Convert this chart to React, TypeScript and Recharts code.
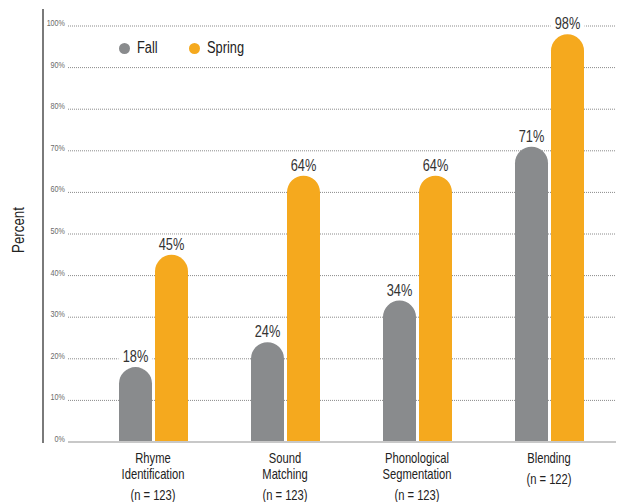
import React from 'react';
import {
  BarChart,
  Bar,
  XAxis,
  YAxis,
  CartesianGrid,
  Legend,
  LabelList,
} from 'recharts';

// category names, split the way the axis prints them
const categoryLines: string[][] = [
  ['Rhyme', 'Identification'],
  ['Sound', 'Matching'],
  ['Phonological', 'Segmentation'],
  ['Blending'],
];
const sampleSizes = [123, 123, 123, 122];
const fallValues = [18, 24, 34, 71];
const springValues = [45, 64, 64, 98];
const yTicks = [0, 10, 20, 30, 40, 50, 60, 70, 80, 90, 100];

const categories = categoryLines.map((l) => l.join(' '));
const seriesNames = { fall: 'Fall', spring: 'Spring' };

const GRAY = '#898b8d';
const ORANGE = '#f5a91e';
const FONT = '"Liberation Sans", Arial, sans-serif';
const NARROW = 0.8; // squeeze Liberation Sans to look like a condensed face

const data = categories.map((category, i) => ({
  category,
  fall: fallValues[i],
  spring: springValues[i],
}));

// text drawn condensed around its anchor x
const Narrow = ({ x, y, children, ...rest }: any) => (
  <text transform={`translate(${x},0) scale(${NARROW},1)`} x={0} y={y} fontFamily={FONT} {...rest}>
    {children}
  </text>
);

const YTick = (props: any) => {
  const { y, payload } = props;
  return (
    <Narrow x={57} y={y} textAnchor="end" fontSize={9} fill="#6a6a6a">
      {payload.value}%
    </Narrow>
  );
};

const XTick = (props: any) => {
  const { x, y, payload } = props;
  const i = categories.indexOf(payload.value);
  const lines = categoryLines[i] || [payload.value];
  const nY = y + 21 + (lines.length - 1) * 16 + 21;
  return (
    <g>
      {lines.map((line, k) => (
        <Narrow key={k} x={x} y={y + 21 + k * 16} textAnchor="middle" fontSize={14} fill="#222">
          {line}
        </Narrow>
      ))}
      <Narrow x={x} y={nY} textAnchor="middle" fontSize={14} fill="#222">
        (n = {sampleSizes[i]})
      </Narrow>
    </g>
  );
};

const AxisTitle = (props: any) => {
  const vb = props.viewBox || { x: 0, y: 18, width: 60, height: 416 };
  const cy = vb.y + vb.height / 2 - 4;
  return (
    <g>
      <line x1={35} x2={35} y1={1} y2={vb.y + vb.height + 1} stroke="#7a7a7a" strokeWidth={2} />
      <text
        x={10}
        y={cy}
        transform={`rotate(-90, 10, ${cy})`}
        textAnchor="middle"
        dominantBaseline="central"
        fontSize={16}
        fill="#222"
        fontFamily={FONT}
        textLength={46}
        lengthAdjust="spacingAndGlyphs"
      >
        Percent
      </text>
    </g>
  );
};

const BarValue = (props: any) => {
  const { x, y, width, value } = props;
  const cx = x + width / 2;
  return (
    <g>
      <rect x={cx - 17} y={y - 20} width={34} height={16} fill="#fff" />
      <Narrow x={cx} y={y - 5} textAnchor="middle" fontSize={16} fill="#333">
        {value}%
      </Narrow>
    </g>
  );
};

const LegendBox = () => (
  <div style={{ display: 'flex', alignItems: 'center', fontFamily: FONT, fontSize: 16, color: '#222' }}>
    {[
      { name: seriesNames.fall, color: GRAY, w: 52 },
      { name: seriesNames.spring, color: ORANGE, w: 70 },
    ].map((s) => (
      <div key={s.name} style={{ display: 'flex', alignItems: 'center', width: s.w + 18 }}>
        <span
          style={{ width: 11, height: 11, borderRadius: '50%', background: s.color, display: 'inline-block', marginRight: 7, flex: 'none' }}
        />
        <span style={{ display: 'inline-block', transform: `scaleX(${NARROW})`, transformOrigin: 'left center' }}>
          {s.name}
        </span>
      </div>
    ))}
  </div>
);

export default function App() {
  return (
    <div style={{ width: 612, height: 494 }}>
      <BarChart
        width={612}
        height={494}
        data={data}
        margin={{ top: 18, right: 2, bottom: 0, left: 0 }}
        barSize={33}
        barGap={3}
      >
        <CartesianGrid vertical={false} stroke="#8a8a8a" strokeDasharray="1 1" />
        <XAxis
          dataKey="category"
          height={60}
          axisLine={{ stroke: '#c8c8c8', strokeWidth: 2 }}
          tickLine={false}
          tickSize={0}
          tickMargin={0}
          padding={{ left: 19, right: 3 }}
          tick={<XTick />}
          interval={0}
        />
        <YAxis
          width={60}
          domain={[0, 100]}
          ticks={yTicks}
          axisLine={false}
          tickLine={false}
          tick={<YTick />}
          label={<AxisTitle />}
        />
        <Legend
          content={<LegendBox />}
          layout="horizontal"
          verticalAlign="middle"
          align="center"
          wrapperStyle={{ top: 31, left: 111, width: 'auto' }}
        />
        <Bar dataKey="fall" name={seriesNames.fall} fill={GRAY} radius={[17, 17, 0, 0]} isAnimationActive={false}>
          <LabelList dataKey="fall" content={<BarValue />} />
        </Bar>
        <Bar dataKey="spring" name={seriesNames.spring} fill={ORANGE} radius={[17, 17, 0, 0]} isAnimationActive={false}>
          <LabelList dataKey="spring" content={<BarValue />} />
        </Bar>
      </BarChart>
    </div>
  );
}
